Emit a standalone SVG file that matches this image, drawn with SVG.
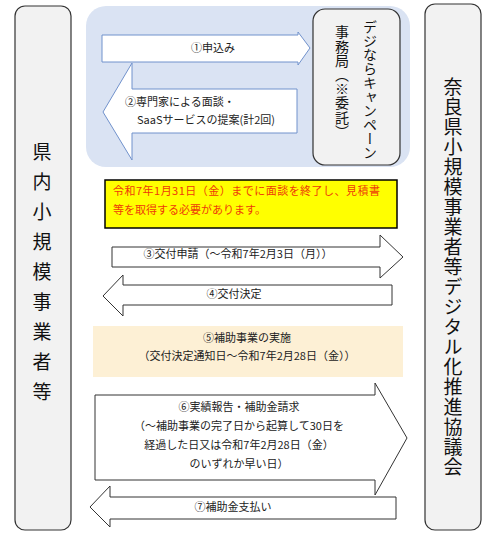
<svg xmlns="http://www.w3.org/2000/svg" width="493" height="539" viewBox="0 0 493 539">
<style>
.box{fill:#f2f2f2;stroke:#333;stroke-width:1.2}
.arrB{fill:#fff;stroke:#7192cc;stroke-width:1}
.arrK{fill:#fff;stroke:#333;stroke-width:1}
.t{font-family:"Noto Sans CJK JP","Noto Sans CJK SC",sans-serif;font-size:11px;fill:#222}
.tm{text-anchor:middle}
.v{font-family:"Noto Sans CJK JP","Noto Sans CJK SC",sans-serif;fill:#111;writing-mode:vertical-rl;text-orientation:mixed}
.red{font-family:"Noto Sans CJK JP","Noto Sans CJK SC",sans-serif;font-size:11px;fill:#ee3a0a}
</style>
<rect width="493" height="539" fill="#fff"/>
<g id="region-blue">
<rect x="86" y="6" width="324" height="161" rx="20" fill="#dae3f3"/>
</g>
<g id="node-left">
<rect class="box" x="15" y="6" width="56" height="524" rx="10"/>
<text class="v" x="42" y="142" style="font-size:19px;letter-spacing:11px">県内小規模事業者等</text>
</g>
<g id="node-right">
<rect class="box" x="425" y="4" width="56" height="526" rx="10"/>
<text class="v" x="453" y="77" style="font-size:19px;letter-spacing:1px">奈良県小規模事業者等デジタル化推進協議会</text>
</g>
<g id="node-jimukyoku">
<rect class="box" x="313" y="9" width="87" height="156" rx="12"/>
<text class="v" x="370" y="20" style="font-size:14px">デジならキャンペーン</text>
<text class="v" x="342" y="25" style="font-size:14px;letter-spacing:0.2px">事務局（※委託）</text>
</g>
<g id="note-yellow">
<rect x="105" y="180" width="292" height="48" fill="#ffff00" stroke="#000" stroke-width="1.5"/>
<text class="red" x="113" y="195" textLength="267" lengthAdjust="spacing">令和7年1月31日（金）までに面談を終了し、見積書</text>
<text class="red" x="113" y="214">等を取得する必要があります。</text>
</g>
<g id="node-step5">
<rect x="93" y="326" width="310" height="51" fill="#fdf0d5"/>
<text class="t tm" x="247" y="342">⑤補助事業の実施</text>
<text class="t tm" x="247" y="360">（交付決定通知日～令和7年2月28日（金））</text>
</g>
<g id="connectors">
<path class="arrB" d="M102,35 H298 V32 L310,48 L298,65 V62 H102 Z"/>
<text class="t tm" x="213" y="52">①申込み</text>
<path class="arrB" d="M103,112 L132,63 V89 H297 V133 H132 V160 Z"/>
<text class="t" x="125" y="106">②専門家による面談・</text>
<text class="t" x="137" y="124">SaaSサービスの提案(計2回)</text>
<path class="arrK" d="M112,247 H380 V235 L403,257 L380,278 V267 H112 Z"/>
<text class="t tm" x="238" y="258">③交付申請（～令和7年2月3日（月））</text>
<path class="arrK" d="M103,296 L123,275 V285 H392 V305 H123 V316 Z"/>
<text class="t tm" x="234" y="298">④交付決定</text>
<path class="arrK" d="M95,395 H375 V383 L407,438 L375,495 V480 H95 Z"/>
<text class="t tm" x="239" y="411">⑥実績報告・補助金請求</text>
<text class="t tm" x="239" y="430">（～補助事業の完了日から起算して30日を</text>
<text class="t tm" x="239" y="449">経過した日又は令和7年2月28日（金）</text>
<text class="t tm" x="239" y="468">のいずれか早い日）</text>
<path class="arrK" d="M90,507 L110,486 V497 H396 V519 H110 V527 Z"/>
<text class="t tm" x="233" y="511">⑦補助金支払い</text>
</g>
</svg>
